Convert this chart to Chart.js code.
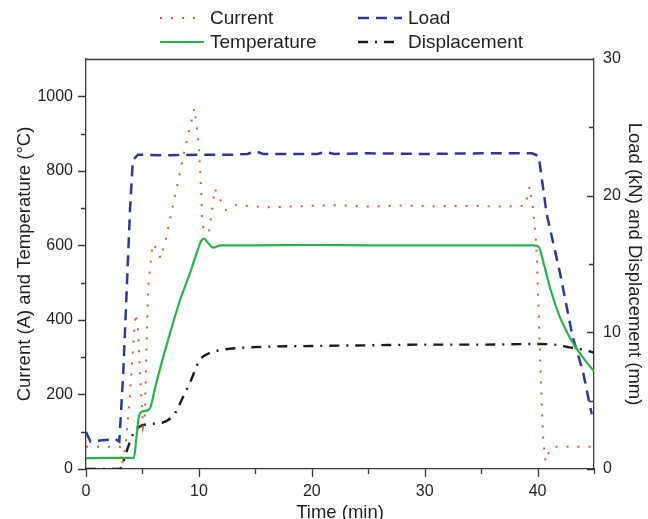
<!DOCTYPE html>
<html>
<head>
<meta charset="utf-8">
<script src="https://cdn.jsdelivr.net/npm/chart.js@4.4.0/dist/chart.umd.min.js"></script>
<style>
  body { margin: 0; background: #fff; }
  canvas { display: block; }
</style>
</head>
<body>
<canvas id="chart" width="648" height="519"></canvas>
<script>
// DATA (time in min)
const currentTime = [0, 1.5, 3.0, 3.2, 3.5, 3.9, 4.2, 4.4, 4.6, 4.8, 5.05, 5.2, 5.5, 5.9, 6.3, 6.6, 7.0, 7.8, 8.7, 9.6, 9.8, 10.0, 10.2, 10.3, 10.5, 10.9, 11.2, 11.4, 11.9, 12.4, 13.3, 16, 19, 22, 25, 28, 31, 34, 37, 38.9, 39.3, 39.6, 39.9, 40.1, 40.3, 40.5, 40.7, 41.0, 41.5, 45];
const currentValue = [60, 60, 60, 10, 60, 200, 340, 417, 380, 250, 112, 131, 487, 604, 590, 565, 607, 720, 850, 968, 920, 866, 746, 660, 634, 640, 700, 752, 722, 695, 708, 702, 705, 708, 704, 707, 705, 706, 704, 706, 758, 700, 600, 420, 230, 80, 20, 45, 60, 60];

const temperatureTime = [0, 2, 4.25, 4.45, 4.65, 4.85, 5.3, 5.7, 6.1, 6.55, 7.4, 8.3, 9.2, 9.9, 10.2, 10.45, 10.8, 11.25, 11.9, 15, 20, 25, 30, 35, 39.6, 40.1, 40.6, 41.1, 42, 43, 44, 45];
const temperatureValue = [29, 30, 30, 80, 135, 152, 156, 165, 215, 268, 360, 450, 525, 588, 612, 618, 607, 594, 600, 600, 601, 600, 600, 600, 600, 596, 545, 487, 406, 345, 300, 262];

const loadTime = [0, 0.4, 1.5, 2.6, 2.95, 3.3, 3.6, 3.9, 4.15, 4.6, 7, 10, 13, 14.3, 15, 15.7, 18, 20.5, 21.2, 22, 25, 30, 35, 39.5, 40.1, 40.8, 42, 43.1, 44, 44.8];
const loadValue = [2.7, 2.0, 2.1, 2.2, 2.0, 7, 13, 19, 22.6, 23.0, 22.95, 23.0, 23.0, 23.05, 23.25, 23.05, 23.05, 23.05, 23.2, 23.05, 23.1, 23.05, 23.1, 23.1, 22.9, 18.7, 14.3, 9.7, 7.2, 4.0];

const displacementTime = [0, 3.0, 3.2, 3.6, 4.2, 5.0, 6.8, 7.9, 8.5, 9.2, 10.1, 11.0, 11.9, 13.5, 16, 20, 25, 30, 35, 40, 41.5, 42.5, 43.5, 44.3, 45];
const displacementValue = [0, 0, 0.3, 1.3, 2.6, 3.2, 3.4, 4.1, 5.1, 6.3, 8.0, 8.5, 8.7, 8.85, 8.95, 9.0, 9.05, 9.1, 9.1, 9.15, 9.1, 8.95, 8.8, 8.7, 8.5];

const timeTicks = [0, 10, 20, 30, 40];
const timeMinorTicks = [5, 15, 25, 35, 45];
const leftTicks = [0, 200, 400, 600, 800, 1000];
const leftMinorTicks = [100, 300, 500, 700, 900];
const rightTicks = [0, 10, 20, 30];
const rightMinorTicks = [5, 15, 25];

const seriesNames = ["Current", "Load", "Temperature", "Displacement"];

// STYLE
const textColor = "#231f20";
const axisColor = "#3a3a3a";
const colors = {
  Current: "#f0522a",
  Load: "#2b3a96",
  Temperature: "#2bb34b",
  Displacement: "#1c1c1c",
};
const dashes = {
  Current: [2, 9],
  Load: [11, 7],
  Temperature: [],
  Displacement: [10, 7, 2, 7],
};
const widths = {
  Current: 2,
  Load: 2.5,
  Temperature: 2.2,
  Displacement: 2.4,
};

Chart.defaults.font.family = "'Liberation Sans', Arial, sans-serif";
Chart.defaults.color = textColor;

function toPoints(times, values) {
  return times.map((t, i) => ({ x: t, y: values[i] }));
}

// ticks drawn by hand so minor ones can be shorter, right axis ticks point inward
const axisTicks = {
  id: "axisTicks",
  afterDraw(chart) {
    const { ctx, chartArea, scales } = chart;
    ctx.save();
    ctx.strokeStyle = axisColor;
    ctx.lineWidth = 1.3;
    ctx.beginPath();
    const line = (x1, y1, x2, y2) => {
      ctx.moveTo(x1, y1);
      ctx.lineTo(x2, y2);
    };
    timeTicks.forEach((v) => {
      const x = Math.round(scales.x.getPixelForValue(v)) + 0.5;
      line(x, chartArea.bottom, x, chartArea.bottom + 8);
    });
    timeMinorTicks.forEach((v) => {
      const x = Math.round(scales.x.getPixelForValue(v)) + 0.5;
      line(x, chartArea.bottom, x, chartArea.bottom + 5);
    });
    leftTicks.forEach((v) => {
      const y = Math.round(scales.y.getPixelForValue(v)) + 0.5;
      line(chartArea.left, y, chartArea.left - 8, y);
    });
    leftMinorTicks.forEach((v) => {
      const y = Math.round(scales.y.getPixelForValue(v)) + 0.5;
      line(chartArea.left, y, chartArea.left - 5, y);
    });
    rightTicks.forEach((v) => {
      const y = Math.round(scales.y1.getPixelForValue(v)) + 0.5;
      line(chartArea.right, y, chartArea.right - 7, y);
    });
    rightMinorTicks.forEach((v) => {
      const y = Math.round(scales.y1.getPixelForValue(v)) + 0.5;
      line(chartArea.right, y, chartArea.right - 5, y);
    });
    // top frame
    line(chartArea.left, chartArea.top + 0.5, chartArea.right, chartArea.top + 0.5);
    ctx.stroke();
    ctx.restore();
  },
};

// legend in two columns above the plot
const legendBox = {
  id: "legendBox",
  afterDraw(chart) {
    const { ctx } = chart;
    const spots = {
      Current: { x: 160, y: 18, len: 36 },
      Load: { x: 358, y: 18, len: 44 },
      Temperature: { x: 160, y: 42, len: 44 },
      Displacement: { x: 358, y: 42, len: 40 },
    };
    ctx.save();
    ctx.font = "19px 'Liberation Sans', Arial, sans-serif";
    ctx.textBaseline = "middle";
    ctx.textAlign = "left";
    seriesNames.forEach((name) => {
      const s = spots[name];
      ctx.beginPath();
      ctx.strokeStyle = colors[name];
      ctx.lineWidth = widths[name];
      ctx.setLineDash(dashes[name]);
      ctx.moveTo(s.x, s.y);
      ctx.lineTo(s.x + s.len, s.y);
      ctx.stroke();
      ctx.setLineDash([]);
      ctx.fillStyle = textColor;
      ctx.fillText(name, name === "Load" || name === "Displacement" ? 408 : 210, s.y + 1);
    });
    ctx.restore();
  },
};

function makeDataset(name, times, values, axis, smooth) {
  return {
    label: name,
    data: toPoints(times, values),
    yAxisID: axis,
    borderColor: colors[name],
    borderWidth: widths[name],
    borderDash: dashes[name],
    pointRadius: 0,
    fill: false,
    tension: 0,
    cubicInterpolationMode: smooth ? "monotone" : "default",
  };
}

const ctx = document.getElementById("chart");

const chart = new Chart(ctx, {
  type: "line",
  data: {
    datasets: [
      makeDataset("Current", currentTime, currentValue, "y", false),
      makeDataset("Temperature", temperatureTime, temperatureValue, "y", true),
      makeDataset("Load", loadTime, loadValue, "y1", false),
      makeDataset("Displacement", displacementTime, displacementValue, "y1", true),
    ],
  },
  options: {
    responsive: false,
    animation: false,
    devicePixelRatio: 1,
    layout: { padding: { top: 59, left: 0, right: 0, bottom: 0 } },
    plugins: {
      legend: { display: false },
      tooltip: { enabled: false },
    },
    scales: {
      x: {
        type: "linear",
        position: "bottom",
        min: 0,
        max: 45,
        afterBuildTicks: (scale) => {
          scale.ticks = timeTicks.map((v) => ({ value: v }));
        },
        afterFit: (scale) => {
          scale.height = 50;
        },
        grid: { display: true, drawOnChartArea: false, drawTicks: false },
        border: { color: axisColor, width: 1.3 },
        ticks: { padding: 13, color: textColor, font: { size: 16 }, autoSkip: false, maxRotation: 0, callback: (v) => String(v) },
        title: {
          display: true,
          text: "Time (min)",
          color: textColor,
          font: { size: 18.5, lineHeight: 1 },
          padding: { top: 0, bottom: -3 },
        },
      },
      y: {
        position: "left",
        min: 0,
        max: 1100,
        afterBuildTicks: (scale) => {
          scale.ticks = leftTicks.map((v) => ({ value: v }));
        },
        afterFit: (scale) => {
          scale.width = 86;
        },
        grid: { display: true, drawOnChartArea: false, drawTicks: false },
        border: { color: axisColor, width: 1.3 },
        ticks: { padding: 13, color: textColor, font: { size: 16 }, autoSkip: false, callback: (v) => String(v) },
        title: {
          display: true,
          text: "Current (A) and Temperature (°C)",
          color: textColor,
          font: { size: 18.5, lineHeight: 1 },
          padding: { top: 16, bottom: 0 },
        },
      },
      y1: {
        position: "right",
        min: 0,
        max: 30,
        afterBuildTicks: (scale) => {
          scale.ticks = rightTicks.map((v) => ({ value: v }));
        },
        afterFit: (scale) => {
          scale.width = 54;
        },
        grid: { display: true, drawOnChartArea: false, drawTicks: false },
        border: { color: axisColor, width: 1.3 },
        ticks: { padding: 9, color: textColor, font: { size: 16 }, autoSkip: false, callback: (v) => String(v) },
        title: {
          display: true,
          text: "Load (kN) and Displacement (mm)",
          color: textColor,
          font: { size: 18.5, lineHeight: 1 },
          padding: { top: 5, bottom: 0 },
        },
      },
    },
  },
  plugins: [axisTicks, legendBox],
});
</script>
</body>
</html>
